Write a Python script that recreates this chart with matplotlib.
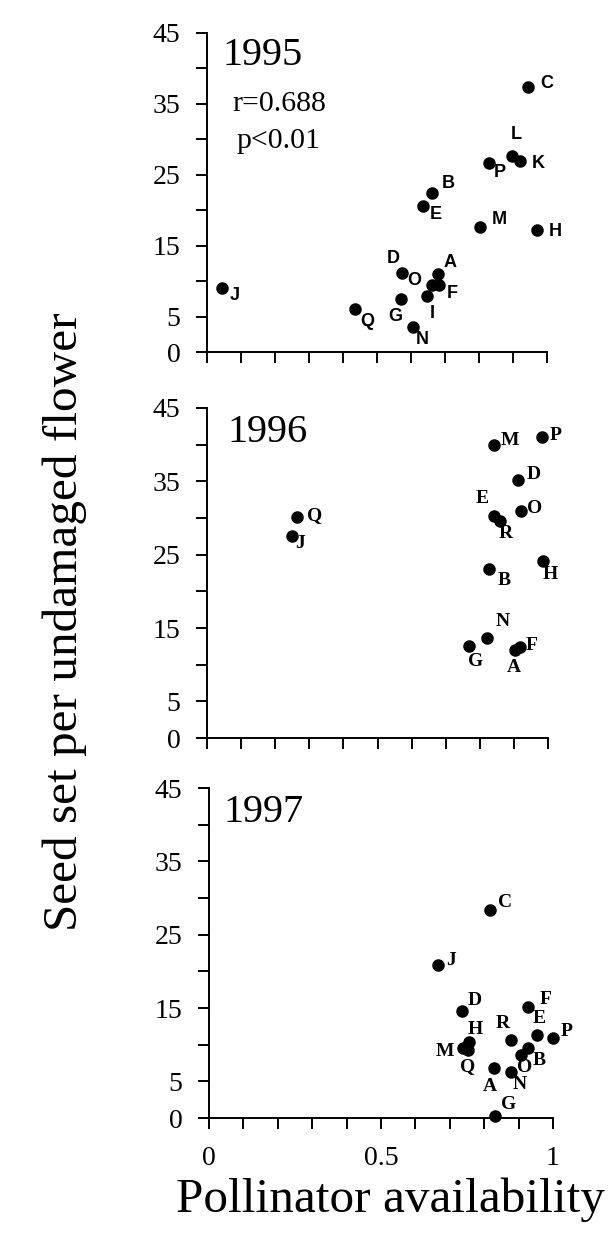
import matplotlib
matplotlib.use("Agg")
from matplotlib import pyplot as plt

SERIF = "Liberation Serif"
SANS = "Liberation Sans"

# data (pollinator availability, seed set)
labels_1995 = ["A", "B", "C", "D", "E", "F", "G", "H", "I", "J", "K", "L", "M", "N", "O", "P", "Q"]
avail_1995 = [0.680, 0.661, 0.943, 0.574, 0.636, 0.682, 0.570, 0.970, 0.646, 0.043, 0.921, 0.896, 0.803, 0.605, 0.661, 0.829, 0.435]
seed_1995 = [11.0, 22.5, 37.4, 11.2, 20.6, 9.4, 7.5, 17.2, 7.9, 9.0, 26.9, 27.7, 17.7, 3.5, 9.4, 26.6, 6.0]

labels_1996 = ["A", "B", "D", "E", "F", "G", "H", "J", "M", "N", "O", "P", "Q", "R"]
avail_1996 = [0.903, 0.827, 0.913, 0.842, 0.917, 0.767, 0.985, 0.249, 0.842, 0.822, 0.921, 0.983, 0.265, 0.859]
seed_1996 = [12.0, 23.1, 35.2, 30.3, 12.4, 12.6, 24.1, 27.6, 40.0, 13.7, 31.0, 41.0, 30.1, 29.6]

labels_1997 = ["A", "B", "C", "D", "E", "F", "G", "H", "J", "M", "N", "O", "P", "Q", "R"]
avail_1997 = [0.829, 0.928, 0.817, 0.735, 0.953, 0.928, 0.831, 0.757, 0.667, 0.739, 0.877, 0.907, 1.0, 0.754, 0.878]
seed_1997 = [6.8, 9.5, 28.4, 14.6, 11.3, 15.2, 0.3, 10.3, 20.8, 9.6, 6.3, 8.6, 10.9, 9.3, 10.6]

years = ["1995", "1996", "1997"]
y_ticks = [0, 5, 10, 15, 20, 25, 30, 35, 40, 45]
y_ticklabels = ["0", "5", "", "15", "", "25", "", "35", "", "45"]
x_ticks = [0, 0.1, 0.2, 0.3, 0.4, 0.5, 0.6, 0.7, 0.8, 0.9, 1.0]
x_ticklabels = ["0", "", "", "", "", "0.5", "", "", "", "", "1"]

# label offsets in pixels (dx, dy up)
OFF_1995 = {"A": (12, 12), "B": (17, 9), "C": (19, 3), "D": (-9, 14), "E": (13, -9), "F": (13, -8),
            "G": (-6, -18), "H": (18, -1), "I": (6, -18), "J": (13, -7), "K": (18, -2), "L": (5, 21),
            "M": (19, 7), "N": (10, -12), "O": (-17, 5), "P": (11, -9), "Q": (12, -12)}
OFF_1996 = {"A": (-1, -17), "B": (15, -12), "D": (15, 5), "E": (-12, 17), "F": (12, 2), "G": (7, -16),
            "H": (7, -13), "J": (8, -8), "M": (16, 4), "N": (15, 16), "O": (14, 2), "P": (13, 2),
            "Q": (17, 2), "R": (6, -13)}
OFF_1997 = {"A": (-4, -18), "B": (11, -12), "C": (15, 7), "D": (13, 10), "E": (2, 17), "F": (17, 7),
            "G": (14, 11), "H": (6, 13), "J": (13, 5), "M": (-18, -4), "N": (9, -13), "O": (4, -13),
            "P": (14, 7), "Q": (-1, -17), "R": (-8, 17)}

W, H = 612, 1248
fig = plt.figure(figsize=(W / 100, H / 100), dpi=100)

# axes rectangles in pixels: left, x-axis y, right, top
rects = [(207, 352, 547, 33), (207, 738, 548, 408), (209, 1118, 553, 788)]
panels = [
    (labels_1995, avail_1995, seed_1995, OFF_1995, SANS),
    (labels_1996, avail_1996, seed_1996, OFF_1996, SERIF),
    (labels_1997, avail_1997, seed_1997, OFF_1997, SERIF),
]
year_pos = [(0.047, 40.5), (0.059, 40.4), (0.041, 40.4)]

for i, ((l, b, r, t), (labs, xs, ys, offs, lfont)) in enumerate(zip(rects, panels)):
    ax = fig.add_axes([l / W, 1 - b / H, (r - l) / W, (b - t) / H])
    ax.set_xlim(0, 1)
    ax.set_ylim(0, 45)
    for s in ("top", "right"):
        ax.spines[s].set_visible(False)
    for s in ("left", "bottom"):
        ax.spines[s].set_linewidth(1.4)
    ax.set_yticks(y_ticks)
    ax.set_yticklabels(y_ticklabels, fontfamily=SERIF, fontsize=20)
    ax.set_xticks(x_ticks)
    if i == 2:
        ax.set_xticklabels(x_ticklabels, fontfamily=SERIF, fontsize=20)
    else:
        ax.set_xticklabels([])
    ax.tick_params(axis="y", direction="out", length=8, width=1.4, pad=11)
    ax.tick_params(axis="x", direction="out", length=8, width=1.4, pad=12)

    ax.plot(xs, ys, "o", color="black", markersize=8, clip_on=False)
    for lab, x, y in zip(labs, xs, ys):
        dx, dy = offs[lab]
        ax.annotate(lab, (x, y), xytext=(dx, dy), textcoords="offset pixels",
                    ha="center", va="center", fontsize=13 if lfont == SANS else 14,
                    fontfamily=lfont, fontweight="bold")

    yx, yy = year_pos[i]
    ax.text(yx, yy, years[i], fontfamily=SERIF, fontsize=29, ha="left", va="baseline")

    if i == 0:
        ax.text(0.076, 34.0, "r=0.688", fontfamily=SERIF, fontsize=21.5, ha="left", va="baseline")
        ax.text(0.088, 28.8, "p<0.01", fontfamily=SERIF, fontsize=21.5, ha="left", va="baseline")

fig.text(390 / W, 1 - 1212 / H, "Pollinator availability", fontfamily=SERIF, fontsize=35.5,
         ha="center", va="baseline")
fig.text(65 / W, 1 - 622 / H, "Seed set per undamaged flower", fontfamily=SERIF, fontsize=35.5,
         ha="center", va="center", rotation=90)

fig.savefig("out.png", dpi=100)
